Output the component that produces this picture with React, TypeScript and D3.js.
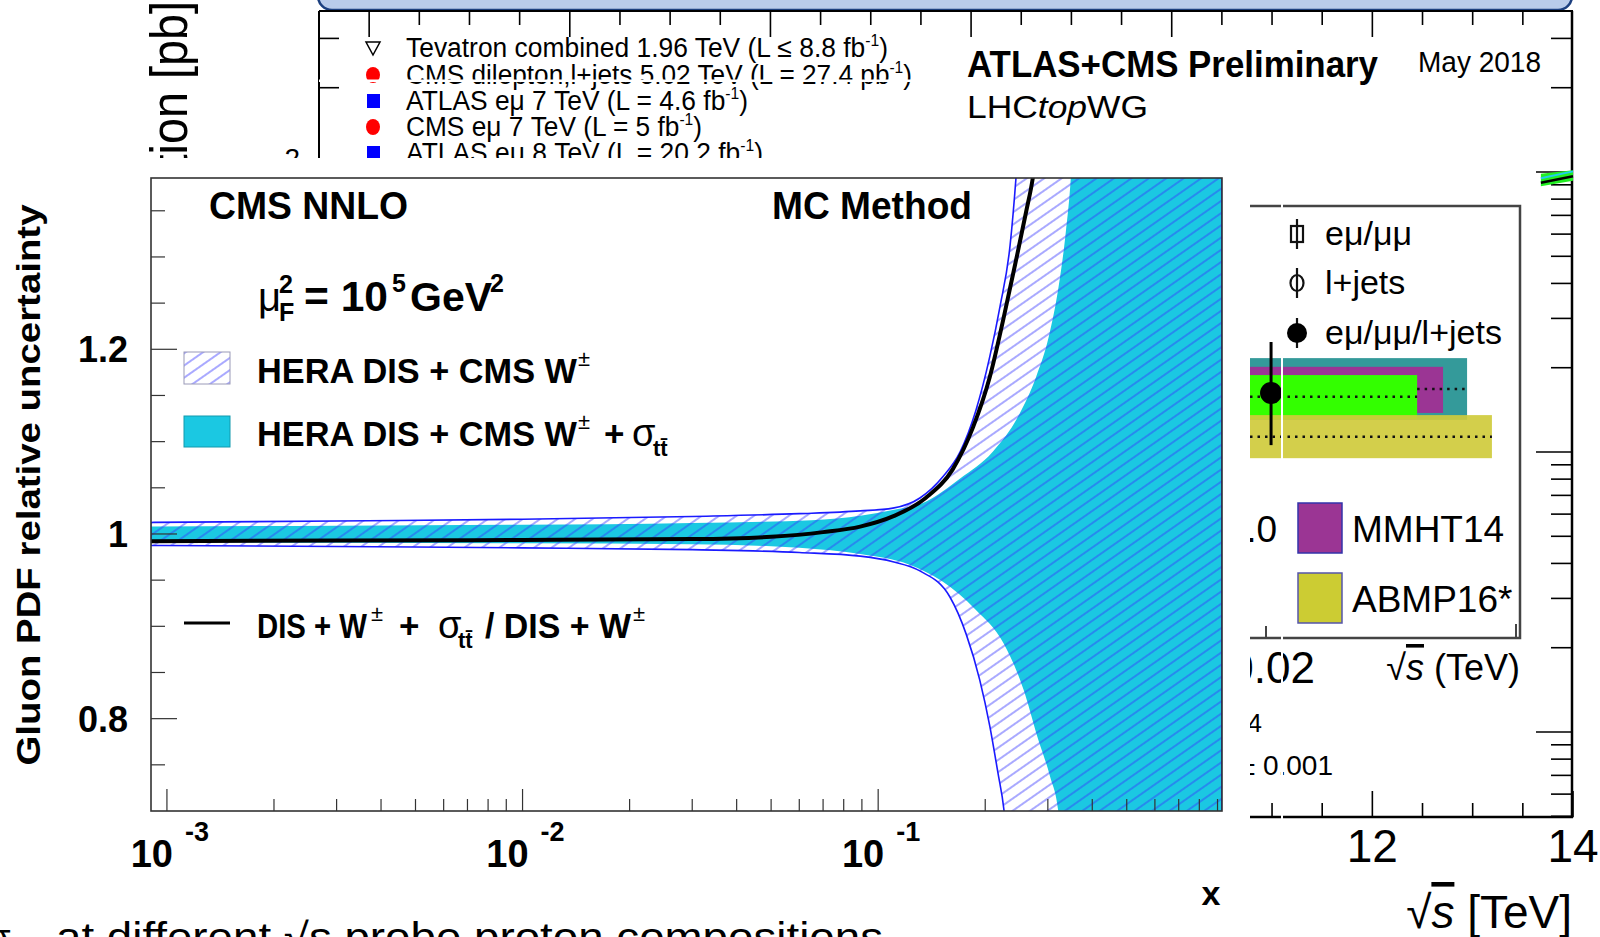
import React from 'react';
import * as d3 from 'd3';

const SANS = "'Liberation Sans', Arial, Helvetica, sans-serif";

// gluon PDF relative uncertainty at muF^2 = 1e5 GeV^2 (MC method)
// HERA DIS + CMS W (hatched band)
const hatchUpX = [0.0009, 0.003, 0.01, 0.03, 0.06, 0.089, 0.11, 0.131, 0.152, 0.17, 0.188, 0.206, 0.22, 0.235, 0.244, 0.255];
const hatchUp = [1.0125, 1.014, 1.016, 1.019, 1.022, 1.025, 1.028, 1.039, 1.062, 1.089, 1.133, 1.192, 1.246, 1.313, 1.385, 1.5];
const hatchLoX = [0.0009, 0.003, 0.01, 0.03, 0.06, 0.089, 0.11, 0.131, 0.159, 0.177, 0.193, 0.206, 0.217, 0.226, 0.235];
const hatchLo = [0.9875, 0.9865, 0.985, 0.983, 0.98, 0.976, 0.97, 0.96, 0.932, 0.891, 0.842, 0.792, 0.742, 0.7, 0.62];
// HERA DIS + CMS W + sigma_tt (filled band)
const cyanUpX = [0.0009, 0.003, 0.01, 0.03, 0.065, 0.09, 0.11, 0.136, 0.17, 0.21, 0.249, 0.278, 0.302, 0.322, 0.337, 0.348, 0.36];
const cyanUp = [1.008, 1.009, 1.01, 1.012, 1.015, 1.02, 1.026, 1.035, 1.06, 1.089, 1.129, 1.17, 1.214, 1.269, 1.327, 1.385, 1.5];
const cyanLoX = [0.0009, 0.003, 0.01, 0.03, 0.06, 0.09, 0.122, 0.151, 0.188, 0.225, 0.256, 0.281, 0.304, 0.321, 0.335];
const cyanLo = [0.9915, 0.9905, 0.99, 0.989, 0.985, 0.978, 0.967, 0.949, 0.918, 0.882, 0.832, 0.779, 0.738, 0.7, 0.62];
// ratio DIS + W + sigma_tt / DIS + W
const ratioX = [0.0009, 0.003, 0.01, 0.03, 0.05, 0.07, 0.089, 0.11, 0.136, 0.162, 0.185, 0.206, 0.225, 0.244, 0.261, 0.272, 0.285];
const ratio = [0.992, 0.993, 0.9935, 0.9945, 0.997, 1.002, 1.008, 1.019, 1.039, 1.07, 1.116, 1.17, 1.233, 1.296, 1.35, 1.385, 1.45];

const xDomain = [9.02e-4, 0.9265];
const yDomain = [0.7, 1.3855];
const yLabels = [0.8, 1, 1.2];
const xDecades = [-3, -2, -1];

// background: ttbar cross-section summary plot
const bgRows = [
  'Tevatron combined 1.96 TeV (L \u2264 8.8 fb',
  'CMS dilepton,l+jets 5.02 TeV (L = 27.4 pb',
  'ATLAS e\u03bc 7 TeV (L = 4.6 fb',
  'CMS e\u03bc 7 TeV (L = 5 fb',
  'ATLAS e\u03bc 8 TeV (L = 20.2 fb',
];
const bgMarkers = ['tri', 'red', 'blue', 'red', 'blue'];
const bgWidths = [482, 506, 342, 296, 357];
const sqrtSDomain = [1.5, 14];
const sigmaDomain = [10, 1000];
const theoryS = [13.68, 14.0];
const theoryLo = [890, 930];
const theoryHi = [985, 1015];
const theoryNom = [915, 965];
const theoryAlt = [950, 1005];

// right inset: predictions vs measurement
const insetBandEnd = [80.4, 71.5, 61.9, 89.6];
const insetBandHi = [64.8, 62.8, 60.9, 51.7];
const insetBandLo = [50.6, 52.2, 50.8, 41.8];
const insetBandColor = ['#349a9a', '#9b3594', '#33ff00', '#cfcb3c'];
const insetPoint = { x: 7.8, y: 56.8, lo: 44.8, hi: 68.5 };

type P = [number, number];
const zip = (xs: number[], ys: number[]): P[] => xs.map((v, i) => [v, ys[i]]);

export default function App() {
  const x = d3.scaleLog().domain(xDomain).range([151, 1222]);
  const y = d3.scaleLinear().domain(yDomain).range([811, 178]);
  const line = d3.line<P>().x((d) => x(d[0])).y((d) => y(d[1])).curve(d3.curveMonotoneX);

  const band = (ux: number[], uy: number[], lx: number[], ly: number[]) => {
    const up = zip(ux, uy);
    up.push([xDomain[1], uy[uy.length - 1]]);
    const lo = zip(lx, ly);
    lo.push([xDomain[1], ly[ly.length - 1]]);
    const p1 = line(up) || '';
    const p2 = (line(lo.reverse()) || '').slice(1);
    return `${p1}L${p2}Z`;
  };
  const hatchPath = band(hatchUpX, hatchUp, hatchLoX, hatchLo);
  const cyanPath = band(cyanUpX, cyanUp, cyanLoX, cyanLo);
  const ratioPath = line(zip(ratioX, ratio)) || '';

  const xTicks: { v: number; major: boolean }[] = [];
  for (let e = -4; e <= 0; e++) {
    for (let k = 1; k <= 9; k++) {
      const v = k * Math.pow(10, e);
      if (v >= xDomain[0] && v <= xDomain[1]) xTicks.push({ v, major: k === 1 });
    }
  }
  const yTicks = d3.range(0.75, 1.3501, 0.05).map((v) => ({
    v,
    major: Math.abs(v * 5 - Math.round(v * 5)) < 1e-6,
  }));

  // background scales
  const sx = d3.scaleLinear().domain(sqrtSDomain).range([319, 1573]);
  const sy = d3.scaleLog().domain(sigmaDomain).range([732, 172]);
  const sigTicks = d3.scaleLog().domain([5, 3700]).ticks();
  const topTicks = d3.range(2, 13.51, 0.5);
  const botTicks = d3.range(11, 14.01, 0.5);
  const tArea = d3
    .area<number>()
    .x((_, i) => sx(theoryS[i]))
    .y0((_, i) => sy(theoryLo[i]))
    .y1((_, i) => sy(theoryHi[i]));

  // inset scales
  const ix = d3.scaleLinear().domain([0, 100]).range([1250, 1520]);
  const iy = d3.scaleLinear().domain([0, 100]).range([640, 205]);

  const sup = (t: string, size = 16) => (
    <tspan fontSize={size} dy={-11}>
      {t}
    </tspan>
  );

  return (
    <svg
      width={1600}
      height={937}
      viewBox="0 0 1600 937"
      style={{ position: 'absolute', left: 0, top: 0, background: '#fff' }}
      fontFamily={SANS}
    >
      <defs>
        <pattern id="hatch" patternUnits="userSpaceOnUse" width={10} height={10} patternTransform="rotate(-35)">
          <line x1={-1} y1={5} x2={11} y2={5} stroke="#3535ff" strokeWidth={1} opacity={0.85} />
        </pattern>
        <clipPath id="plotClip">
          <rect x={151} y={178} width={1071} height={633} />
        </clipPath>
      </defs>

      {/* ---------- background slide / cross-section plot ---------- */}
      <rect x={318} y={-30} width={1254} height={40} rx={14} fill="#b9cbea" stroke="#1c3f7f" strokeWidth={2.5} />
      <line x1={319} x2={1573} y1={11} y2={11} stroke="#000" strokeWidth={2} />
      <line x1={319} x2={319} y1={11} y2={160} stroke="#000" strokeWidth={2} />
      <line x1={1572} x2={1572} y1={11} y2={818} stroke="#000" strokeWidth={2.5} />
      {topTicks.map((s) => (
        <line key={`tt${s}`} x1={sx(s)} x2={sx(s)} y1={11} y2={11 + (s % 2 === 0 ? 26 : 14)} stroke="#000" strokeWidth={1.6} />
      ))}
      {sigTicks.map((v) => {
        const major = Math.abs(Math.log10(v) - Math.round(Math.log10(v))) < 1e-6;
        return (
          <g key={`st${v}`}>
            <line x1={1572} x2={1572 - (major ? 36 : 21)} y1={sy(v)} y2={sy(v)} stroke="#000" strokeWidth={1.6} />
            {v >= 2000 && <line x1={319} x2={339} y1={sy(v)} y2={sy(v)} stroke="#000" strokeWidth={1.6} />}
          </g>
        );
      })}
      <path d={tArea(theoryS) || ''} fill="#22ee22" />
      <line x1={sx(theoryS[0])} x2={sx(theoryS[1])} y1={sy(theoryAlt[0])} y2={sy(theoryAlt[1])} stroke="#22ccee" strokeWidth={2} />
      <line x1={sx(theoryS[0])} x2={sx(theoryS[1])} y1={sy(theoryNom[0])} y2={sy(theoryNom[1])} stroke="#000" strokeWidth={2.5} />

      <text transform="translate(187,1) rotate(-90) scale(0.9,1)" textAnchor="end" fontSize={52}>
        cross section [pb]
      </text>
      <text x={300} y={168} textAnchor="end" fontSize={28}>
        2
      </text>

      {bgRows.map((t, i) => {
        const base = [57, 84, 110, 136, 162][i];
        const my = base - 9;
        const m = bgMarkers[i];
        return (
          <g key={`bg${i}`}>
            {m === 'tri' && (
              <path d={`M${366},${my - 6}L${380},${my - 6}L${373},${my + 7}Z`} fill="none" stroke="#000" strokeWidth={1.5} />
            )}
            {m === 'red' && <ellipse cx={373} cy={my} rx={7} ry={8} fill="#ff0000" />}
            {m === 'blue' && <rect x={367} y={my - 7} width={13} height={14} fill="#0000ff" />}
            <text x={406} y={base} fontSize={27} textLength={bgWidths[i]} lengthAdjust="spacingAndGlyphs">
              {t}
              {sup('-1')}
              <tspan dy={11}>)</tspan>
            </text>
          </g>
        );
      })}
      <rect x={319} y={79.5} width={620} height={2.5} fill="#fff" />

      <text x={967} y={77} fontSize={36} fontWeight="bold" textLength={411} lengthAdjust="spacingAndGlyphs">
        ATLAS+CMS Preliminary
      </text>
      <text x={1418} y={72} fontSize={30} textLength={123} lengthAdjust="spacingAndGlyphs">
        May 2018
      </text>
      <text x={967} y={118} fontSize={32} textLength={181} lengthAdjust="spacingAndGlyphs">
        LHC<tspan fontStyle="italic">top</tspan>WG
      </text>

      {/* background text partly hidden behind the main plot */}
      <text x={1262} y={732} fontSize={26} textAnchor="end">
        4
      </text>
      <text x={1333} y={775} fontSize={28} textAnchor="end">
        {'\u00b1 0.001'}
      </text>

      {/* background bottom axis */}
      <line x1={1250} x2={1573} y1={817} y2={817} stroke="#000" strokeWidth={2.5} />
      {botTicks.map((s) => (
        <line key={`bt${s}`} x1={sx(s)} x2={sx(s)} y1={817} y2={817 - (s % 2 === 0 ? 26 : 14)} stroke="#000" strokeWidth={1.6} />
      ))}
      {[12, 14].map((s) => (
        <text key={`bl${s}`} x={sx(s)} y={862} fontSize={46} textAnchor="middle">
          {s}
        </text>
      ))}
      <text x={1572} y={928} fontSize={46} textAnchor="end">
        {'\u221a'}
        <tspan fontStyle="italic" textDecoration="overline">
          s
        </tspan>
        {' [TeV]'}
      </text>

      {/* ---------- right inset (predictions) ---------- */}
      <rect x={1250} y={196} width={276} height={500} fill="#fff" />
      {insetBandEnd.map((e, i) => (
        <rect
          key={`ib${i}`}
          x={ix(0)}
          y={iy(insetBandHi[i])}
          width={ix(e) - ix(0)}
          height={iy(insetBandLo[i]) - iy(insetBandHi[i])}
          fill={insetBandColor[i]}
          opacity={i === 3 ? 0.92 : 1}
        />
      ))}
      <line x1={ix(0)} x2={ix(insetBandEnd[2])} y1={iy(55.9)} y2={iy(55.9)} stroke="#111" strokeWidth={2.5} strokeDasharray="2.5 5" />
      <line x1={ix(insetBandEnd[2])} x2={ix(insetBandEnd[0])} y1={iy(57.7)} y2={iy(57.7)} stroke="#111" strokeWidth={2.5} strokeDasharray="2.5 5" />
      <line x1={ix(0)} x2={ix(insetBandEnd[3])} y1={iy(46.7)} y2={iy(46.7)} stroke="#111" strokeWidth={2.5} strokeDasharray="2.5 5" />
      <line x1={ix(insetPoint.x)} x2={ix(insetPoint.x)} y1={iy(insetPoint.hi)} y2={iy(insetPoint.lo)} stroke="#000" strokeWidth={3} />
      <circle cx={ix(insetPoint.x)} cy={iy(insetPoint.y)} r={11} fill="#000" />

      <path d="M1250,206H1520V638H1250" fill="none" stroke="#444" strokeWidth={2.5} />
      <line x1={1266} x2={1266} y1={638} y2={626} stroke="#444" strokeWidth={2} />
      <line x1={1516} x2={1516} y1={638} y2={624} stroke="#444" strokeWidth={2} />

      {/* inset legend */}
      <g stroke="#111" strokeWidth={2.2}>
        <line x1={1297} x2={1297} y1={219} y2={249} />
        <rect x={1291} y={226} width={12} height={16} fill="none" />
        <line x1={1297} x2={1297} y1={268} y2={298} />
        <ellipse cx={1297} cy={283} rx={6.5} ry={8} fill="none" />
        <line x1={1297} x2={1297} y1={318} y2={348} />
      </g>
      <circle cx={1297} cy={333} r={10} fill="#000" />
      <text x={1325} y={245} fontSize={34}>
        {'e\u03bc/\u03bc\u03bc'}
      </text>
      <text x={1325} y={294} fontSize={34}>
        l+jets
      </text>
      <text x={1325} y={344} fontSize={34}>
        {'e\u03bc/\u03bc\u03bc/l+jets'}
      </text>
      <text x={1277} y={542} fontSize={37} textAnchor="end">
        1.0
      </text>
      <rect x={1298} y={503} width={44} height={50} fill="#9b3594" stroke="#3333aa" strokeWidth={1.5} />
      <text x={1352} y={542} fontSize={37}>
        MMHT14
      </text>
      <rect x={1298} y={573} width={44} height={50} fill="#cccc33" stroke="#5555aa" strokeWidth={1.5} />
      <text x={1352} y={612} fontSize={37}>
        ABMP16*
      </text>
      <text x={1315} y={683} fontSize={44} textAnchor="end">
        0.02
      </text>
      <text x={1520} y={680} fontSize={36} textAnchor="end">
        {'\u221a'}
        <tspan fontStyle="italic" textDecoration="overline">
          s
        </tspan>
        {' (TeV)'}
      </text>
      <rect x={1281} y={198} width={2} height={624} fill="#fff" />

      {/* ---------- main plot: gluon PDF relative uncertainty ---------- */}
      <rect x={0} y={158} width={1250} height={760} fill="#fff" />
      <g clipPath="url(#plotClip)">
        <path d={cyanPath} fill="#1bc8e2" />
        <path d={hatchPath} fill="url(#hatch)" />
        <path d={hatchPath} fill="none" stroke="#1a1aff" strokeWidth={1.6} />
        <path d={ratioPath} fill="none" stroke="#000" strokeWidth={4} />
      </g>
      <rect x={151} y={178} width={1071} height={633} fill="none" stroke="#333" strokeWidth={1.6} />

      {yTicks.map((t) => (
        <line key={`yt${t.v}`} x1={151} x2={151 + (t.major ? 26 : 14)} y1={y(t.v)} y2={y(t.v)} stroke="#333" strokeWidth={1.2} />
      ))}
      {xTicks.map((t) => (
        <line key={`xt${t.v}`} x1={x(t.v)} x2={x(t.v)} y1={811} y2={811 - (t.major ? 22 : 12)} stroke="#333" strokeWidth={1.2} />
      ))}
      {yLabels.map((v) => (
        <text key={`yl${v}`} x={128} y={y(v) + 13} textAnchor="end" fontSize={36} fontWeight="bold">
          {v === 1 ? '1' : v.toFixed(1)}
        </text>
      ))}
      {xDecades.map((e) => {
        const px = x(Math.pow(10, e));
        return (
          <g key={`xl${e}`} fontWeight="bold">
            <text x={px + 6} y={867} textAnchor="end" fontSize={38}>
              10
            </text>
            <text x={px + 18} y={841} fontSize={27}>
              {`-${-e}`}
            </text>
          </g>
        );
      })}
      <text x={1211} y={905} textAnchor="middle" fontSize={34} fontWeight="bold">
        x
      </text>
      <text
        transform="translate(40,485) rotate(-90)"
        textAnchor="middle"
        fontSize={33}
        fontWeight="bold"
        textLength={561}
        lengthAdjust="spacingAndGlyphs"
      >
        Gluon PDF relative uncertainty
      </text>

      <g fontWeight="bold">
        <text x={209} y={219} fontSize={38} textLength={199} lengthAdjust="spacingAndGlyphs">
          CMS NNLO
        </text>
        <text x={772} y={219} fontSize={38} textLength={200} lengthAdjust="spacingAndGlyphs">
          MC Method
        </text>

        <text x={258} y={311} fontSize={40} fontWeight="normal">
          {'\u03bc'}
        </text>
        <text x={279} y={293} fontSize={25}>
          2
        </text>
        <text x={279} y={321} fontSize={25}>
          F
        </text>
        <text x={304} y={311} fontSize={42} textLength={84} lengthAdjust="spacingAndGlyphs">
          = 10
        </text>
        <text x={392} y={292} fontSize={25}>
          5
        </text>
        <text x={410} y={311} fontSize={41}>
          GeV
        </text>
        <text x={490} y={292} fontSize={25}>
          2
        </text>

        <rect x={184} y={352} width={46} height={32} fill="url(#hatch)" stroke="#9a9ab8" strokeWidth={1} />
        <text x={257} y={383} fontSize={35} textLength={320} lengthAdjust="spacingAndGlyphs">
          HERA DIS + CMS W
        </text>
        <text x={578} y={366} fontSize={22} fontWeight="normal">
          {'\u00b1'}
        </text>

        <rect x={184} y={416} width={46} height={31} fill="#1bc8e2" stroke="#129aae" strokeWidth={1} />
        <text x={257} y={446} fontSize={35} textLength={320} lengthAdjust="spacingAndGlyphs">
          HERA DIS + CMS W
        </text>
        <text x={578} y={429} fontSize={22} fontWeight="normal">
          {'\u00b1'}
        </text>
        <text x={604} y={446} fontSize={35}>
          +
        </text>
        <text x={632} y={446} fontSize={38} fontWeight="normal">
          {'\u03c3'}
        </text>
        <text x={653} y={456} fontSize={22}>
          {'tt\u0304'}
        </text>

        <line x1={184} x2={230} y1={623} y2={623} stroke="#000" strokeWidth={3} />
        <text x={257} y={638} fontSize={35} textLength={110} lengthAdjust="spacingAndGlyphs">
          DIS + W
        </text>
        <text x={371} y={621} fontSize={22} fontWeight="normal">
          {'\u00b1'}
        </text>
        <text x={399} y={638} fontSize={35}>
          +
        </text>
        <text x={438} y={638} fontSize={38} fontWeight="normal">
          {'\u03c3'}
        </text>
        <text x={458} y={648} fontSize={22}>
          {'tt\u0304'}
        </text>
        <text x={485} y={638} fontSize={35} textLength={146} lengthAdjust="spacingAndGlyphs">
          / DIS + W
        </text>
        <text x={633} y={621} fontSize={22} fontWeight="normal">
          {'\u00b1'}
        </text>
      </g>

      {/* slide text cut at the bottom */}
      <text x={-14} y={952} fontSize={40}>
        {'\u03c3'}
        <tspan fontSize={26} dy={8}>
          tt
        </tspan>
      </text>
      <text x={56} y={951} fontSize={40} textLength={827} lengthAdjust="spacingAndGlyphs">
        {'at different \u221as probe proton compositions'}
      </text>
    </svg>
  );
}
